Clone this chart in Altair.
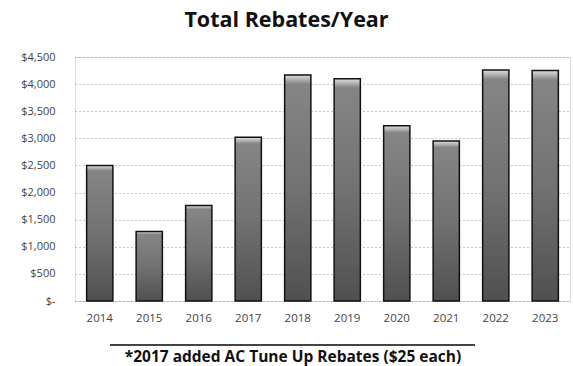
import altair as alt
import pandas as pd

years = ["2014", "2015", "2016", "2017", "2018", "2019", "2020", "2021", "2022", "2023"]
rebates = [2500, 1280, 1760, 3020, 4170, 4100, 3230, 2950, 4260, 4250]
y_ticks = [0, 500, 1000, 1500, 2000, 2500, 3000, 3500, 4000, 4500]
footnote = "*2017 added AC Tune Up Rebates ($25 each)"

df = pd.DataFrame({"year": years, "rebates": rebates})

FONT = "Open Sans"

bar_fill = alt.Gradient(
    gradient="linear",
    stops=[
        alt.GradientStop(color="#e0e0e0", offset=0),
        alt.GradientStop(color="#858585", offset=0.04),
        alt.GradientStop(color="#727272", offset=0.5),
        alt.GradientStop(color="#505050", offset=1),
    ],
    x1=0, x2=0, y1=0, y2=1,
)

bars = alt.Chart(df).mark_bar(
    fill=bar_fill, stroke="#111111", strokeWidth=1.5
).encode(
    x=alt.X(
        "year:N",
        sort=years,
        title=None,
        scale=alt.Scale(paddingInner=0.47, paddingOuter=0.235),
        axis=alt.Axis(
            labelAngle=0, ticks=False, domain=False, labelPadding=11,
            labelFont=FONT, labelFontSize=11.5, labelColor="#444444",
        ),
    ),
    y=alt.Y(
        "rebates:Q",
        title=None,
        scale=alt.Scale(domain=[0, 4500], nice=False),
        axis=alt.Axis(
            values=y_ticks, ticks=False, domain=False, labelPadding=20,
            labelExpr="datum.value == 0 ? '$-   ' : '$' + format(datum.value, ',')",
            labelFont=FONT, labelFontSize=11, labelColor="#444444",
            grid=True, gridColor="#8a8a8a", gridDash=[1, 3], gridWidth=1,
        ),
    ),
)

note_rule = alt.Chart(df).mark_rule(color="#444444", strokeWidth=1).encode(
    x=alt.value(35), x2=alt.value(400), y=alt.value(288)
)

note_text = alt.Chart(pd.DataFrame({"t": [footnote]})).mark_text(
    font=FONT, fontSize=15.5, fontWeight="bold", color="#111111", align="center"
).encode(
    text="t:N", x=alt.value(218), y=alt.value(300)
)

chart = alt.layer(bars, note_rule, note_text).properties(
    width=495,
    height=244,
    autosize=alt.AutoSizeParams(type="none"),
    padding={"left": 75, "top": 57, "right": 3, "bottom": 65},
    title=alt.Title(
        "Total Rebates/Year", font=FONT, fontSize=21.5, fontWeight="bold",
        color="#111111", anchor="middle", dx=-36, offset=20,
    ),
).configure_view(stroke=None).configure(background="white")

chart.save("out.html", embed_options={"renderer": "svg", "actions": False})
